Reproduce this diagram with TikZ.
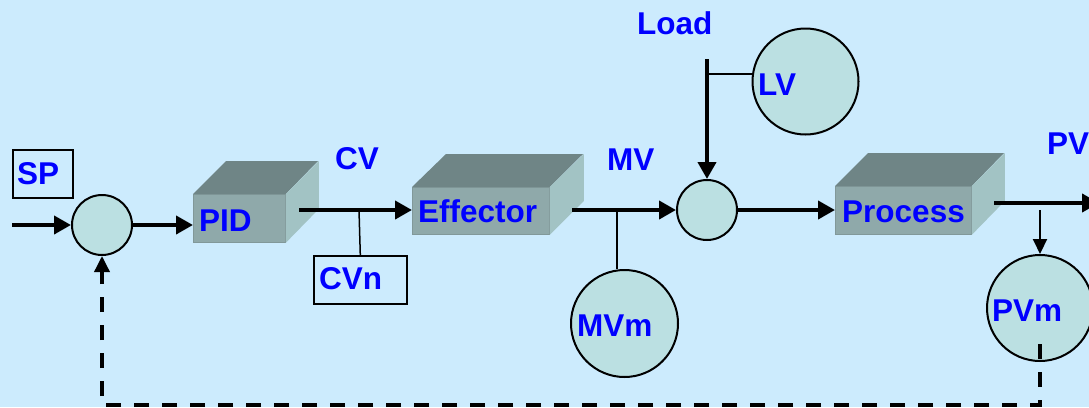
\documentclass[tikz,border=0pt]{standalone}
\usepackage{fontspec}
\setmainfont{Liberation Sans}
\usetikzlibrary{arrows.meta,calc}
\definecolor{bg}{RGB}{204,235,253}
\definecolor{cfill}{RGB}{187,224,226}
\definecolor{frontc}{RGB}{143,169,170}
\definecolor{topc}{RGB}{111,133,134}
\definecolor{sidec}{RGB}{162,195,196}
\definecolor{lblc}{RGB}{0,0,255}
\begin{document}
\begin{tikzpicture}[x=1pt,y=-1pt,
  lbl/.style={text=lblc,font=\fontsize{31.5}{33}\selectfont\bfseries,inner sep=0pt,anchor=base west},
  circ/.style={circle,draw=black,line width=2pt,fill=cfill,inner sep=0pt},
  frontbox/.style={draw=frontc!90!black,line width=0.8pt,fill=frontc,inner sep=0pt,anchor=north west},
  tagbox/.style={draw=black,line width=1.6pt,inner sep=0pt,anchor=north west},
  thickarrow/.style={line width=4pt,-{Triangle[length=17pt,width=18pt]}},
  thinline/.style={line width=1.5pt},
  thinarrow/.style={line width=2pt,-{Triangle[length=15pt,width=14pt]}},
  fbarrow/.style={line width=3.5pt,dash pattern=on 15pt off 13pt,-{Triangle[length=16pt,width=15pt]}}]
\fill[bg] (0,0) rectangle (1089,407);
\useasboundingbox (0,0) rectangle (1089,407);
\clip (0,0) rectangle (1089,407);

% boxes (fronts)
\node[frontbox,minimum width=92pt,minimum height=48pt] (pid) at (193,194) {};
\fill[topc] (pid.north west) -- ++(33,-33) -- ++(92,0) -- (pid.north east) -- cycle;
\fill[sidec] (pid.north east) -- ++(33,-33) -- ++(0,48) -- (pid.south east) -- cycle;

\node[frontbox,minimum width=137pt,minimum height=47pt] (eff) at (412,187) {};
\fill[topc] (eff.north west) -- ++(34,-33) -- ++(137,0) -- (eff.north east) -- cycle;
\fill[sidec] (eff.north east) -- ++(34,-33) -- ++(0,47) -- (eff.south east) -- cycle;

\node[frontbox,minimum width=136pt,minimum height=48pt] (proc) at (835,186) {};
\fill[topc] (proc.north west) -- ++(33,-33) -- ++(136,0) -- (proc.north east) -- cycle;
\fill[sidec] (proc.north east) -- ++(33,-33) -- ++(0,48) -- (proc.south east) -- cycle;

% tag boxes
\node[tagbox,minimum width=60pt,minimum height=48pt] (spbox) at (12,149) {};
\node[tagbox,minimum width=93pt,minimum height=48pt] (cvn) at (313,255) {};

% circles
\node[circ,minimum size=60pt] (s1) at (102,225) {};
\node[circ,minimum size=60pt] (s2) at (707,210) {};
\node[circ,minimum size=106pt] (lv) at (805.5,81.5) {};
\node[circ,minimum size=107pt] (mvm) at (624.5,323.5) {};
\node[circ,minimum size=106pt] (pvm) at (1040,308) {};

% coordinates
\coordinate (in) at (12,225);
\coordinate (pidout) at (299,210);
\coordinate (cvb) at (359,210);
\coordinate (effout) at (572,210);
\coordinate (mvb) at (617,210);
\coordinate (load) at (707,59);
\coordinate (lvb) at (707,74);
\coordinate (procout) at (994,203);
\coordinate (pvend) at (1099,203);
\coordinate (pvb) at (1040,210);
\coordinate (fb) at (1040,344);
\coordinate (fbr) at (1040,405);

% thin branches
\draw[thinline] (cvb) -- (cvn.north);
\draw[thinline] (mvb) -- (mvb |- mvm.north);
\draw[thinline] (lvb) -- (lvb -| lv.west);

% main arrows
\draw[thickarrow] (in) -- (s1.west);
\draw[thickarrow] (s1.east) -- (s1.east -| pid.west);
\draw[thickarrow] (pidout) -- (pidout -| eff.west);
\draw[thickarrow] (effout) -- (s2.west);
\draw[thickarrow] (load) -- (s2.north);
\draw[thickarrow] (s2.east) -- (s2.east -| proc.west);
\draw[thickarrow] (procout) -- (pvend);
\draw[thinarrow] (pvb) -- (pvm.north);
\draw[fbarrow] (fb) -- (fbr) -| (s1.south);

% labels
\node[lbl] (tsp) at (17,184) {SP};
\node[lbl] (tpid) at (199,231) {PID};
\node[lbl] (tcv) at (335,169) {CV};
\node[lbl] (teff) at (418,222) {Effector};
\node[lbl] (tcvn) at (319,289) {CVn};
\node[lbl] (tmv) at (607,170) {MV};
\node[lbl] (tload) at (637,34) {Load};
\node[lbl] (tlv) at (758,95) {LV};
\node[lbl] (tmvm) at (577,336) {MVm};
\node[lbl] (tproc) at (842,222) {Process};
\node[lbl] (tpv) at (1047,154) {PV};
\node[lbl] (tpvm) at (992,321) {PVm};
\end{tikzpicture}
\end{document}
